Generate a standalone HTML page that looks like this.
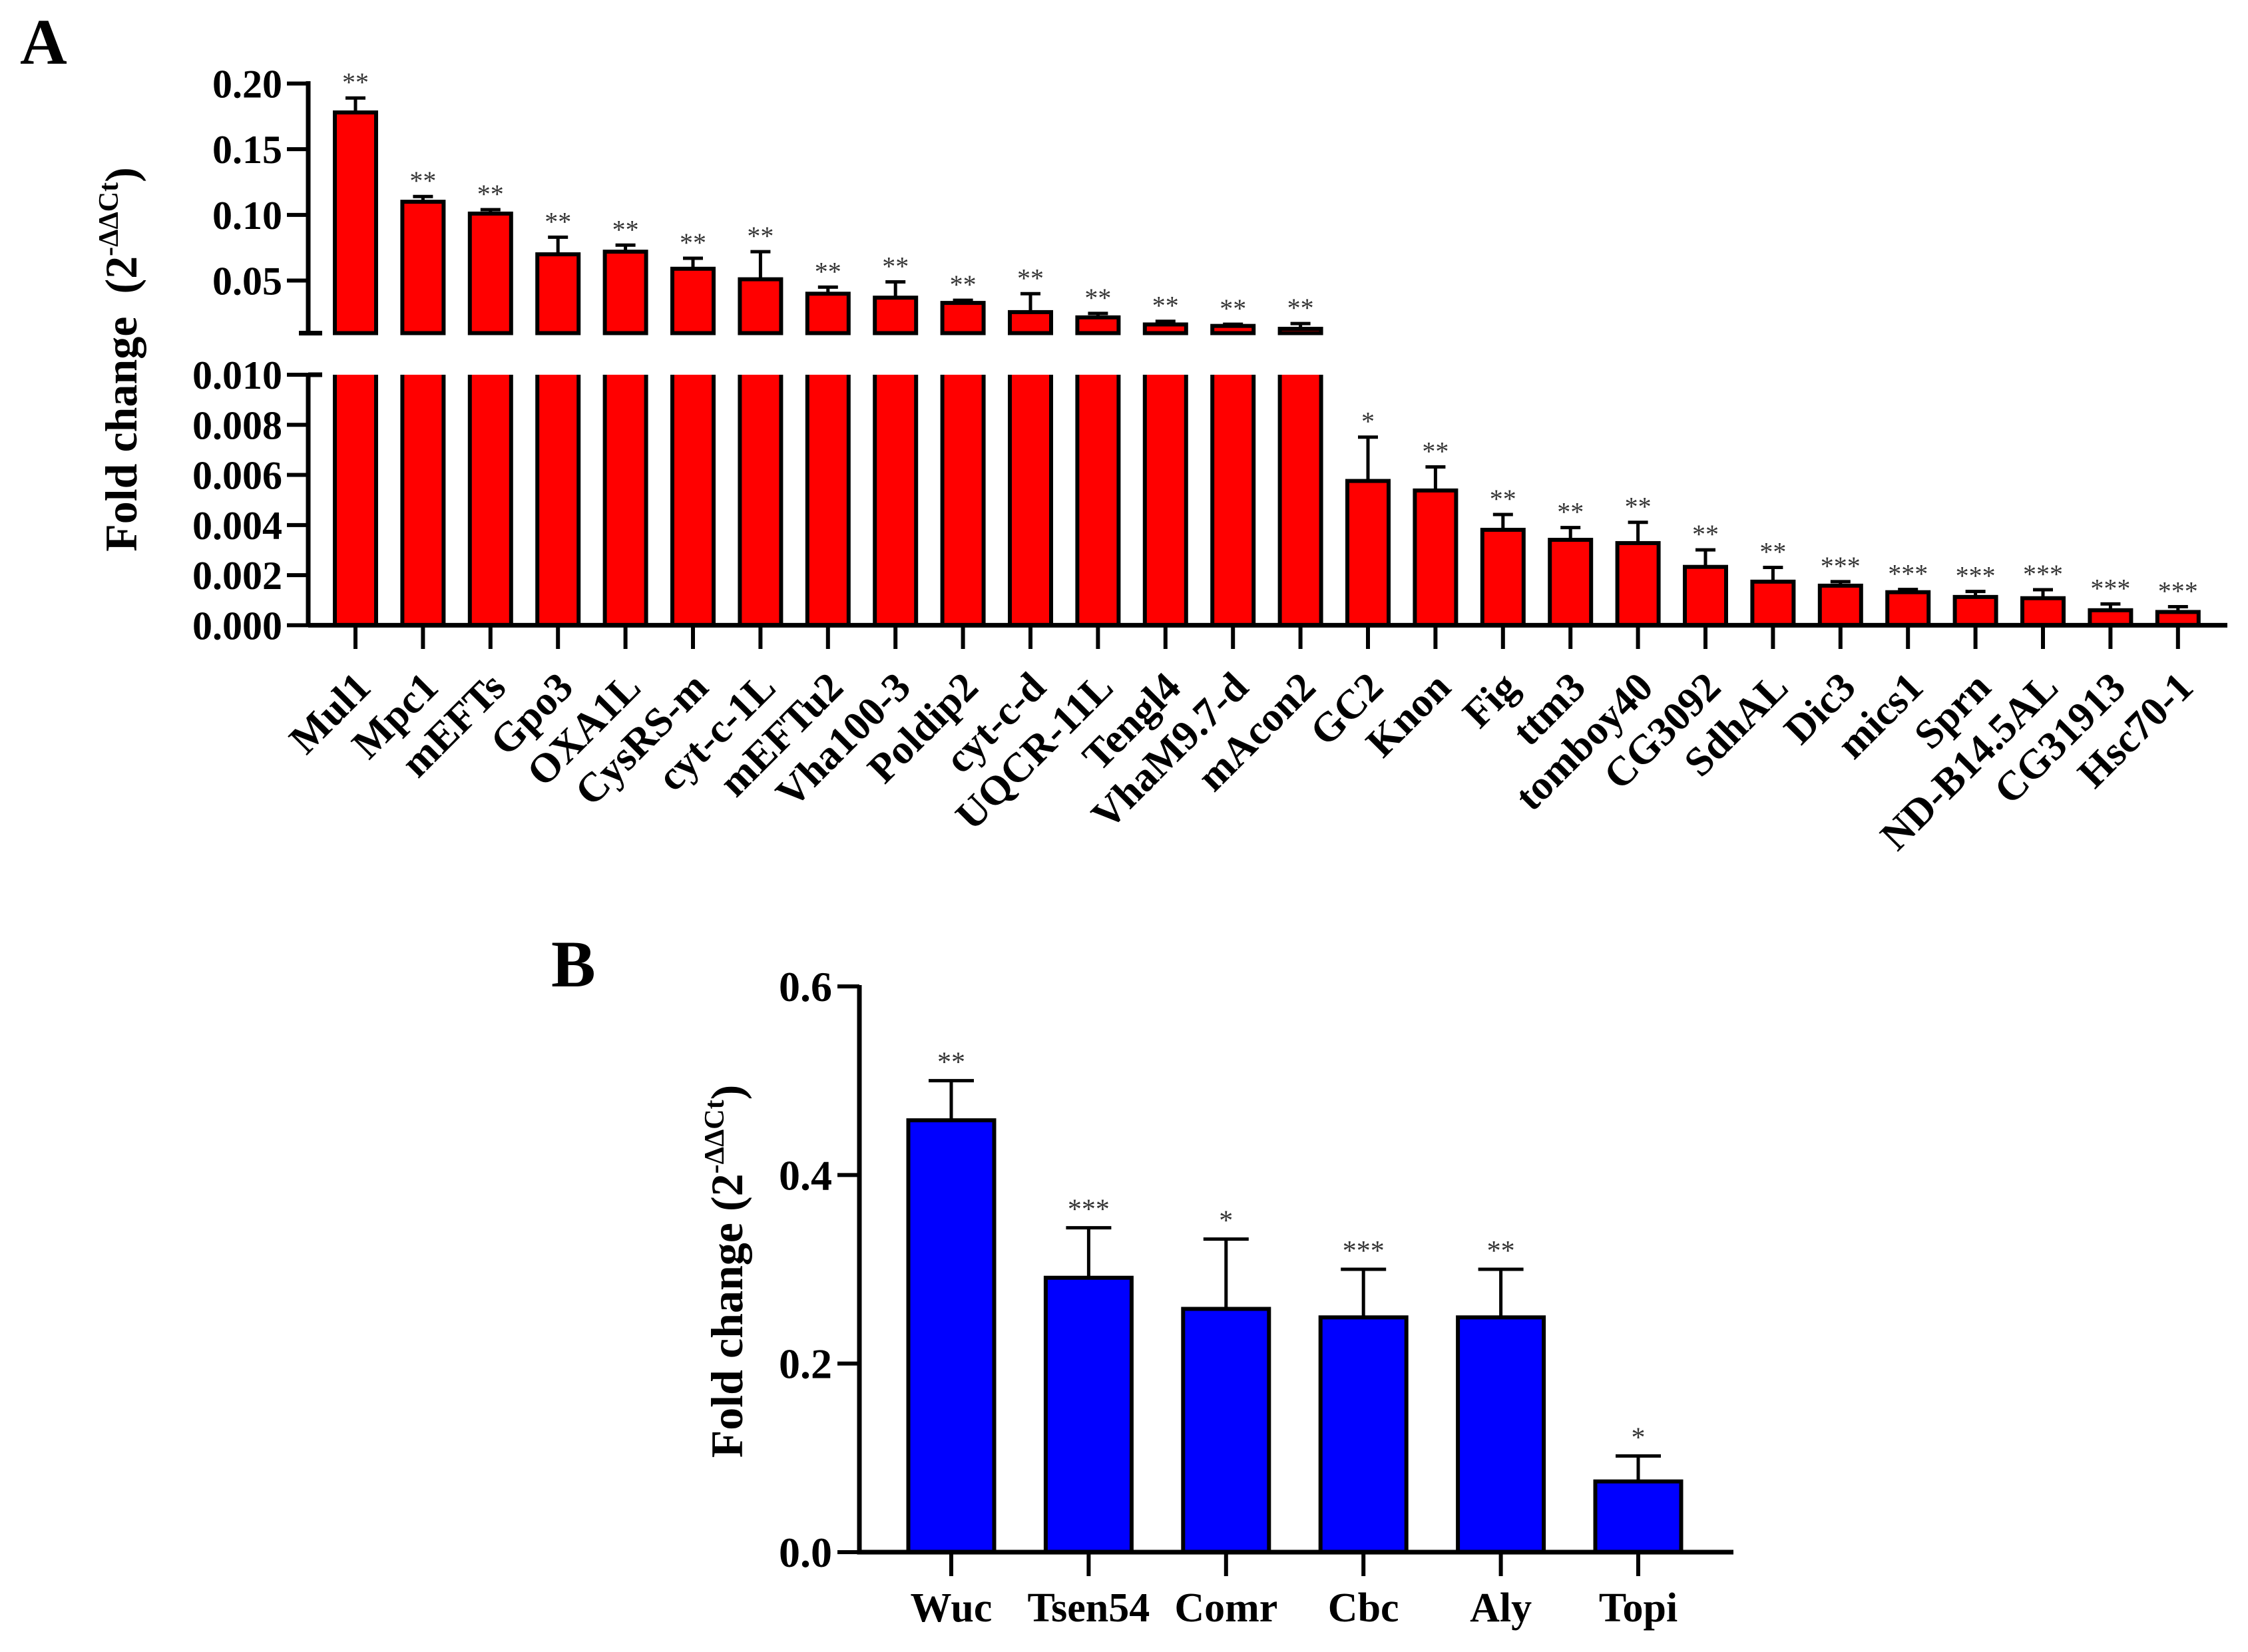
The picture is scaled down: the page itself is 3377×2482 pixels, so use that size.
<!DOCTYPE html>
<html><head><meta charset="utf-8"><style>
html,body{margin:0;padding:0;background:#fff;}
svg{display:block;font-family:"Liberation Serif",serif;font-weight:bold;}
</style></head><body>
<svg id="chart" width="3377" height="2482" viewBox="0 0 3377 2482" xmlns="http://www.w3.org/2000/svg">
<text x="30" y="96" font-size="98">A</text>
<text x="828" y="1482" font-size="100">B</text>
<text transform="translate(205,540) rotate(-90)" text-anchor="middle" font-size="68" xml:space="preserve">Fold change  (2<tspan dy="-28" font-size="42">-ΔΔCt</tspan><tspan dy="28">)</tspan></text>
<text transform="translate(1115,1910) rotate(-90)" text-anchor="middle" font-size="68">Fold change (2<tspan dy="-28" font-size="42">-ΔΔCt</tspan><tspan dy="28">)</tspan></text>
<g id="ga"></g><g id="gb"></g>
</svg>
<script>
const catsA=["Mul1","Mpc1","mEFTs","Gpo3","OXA1L","CysRS-m","cyt-c-1L","mEFTu2","Vha100-3","Poldip2","cyt-c-d","UQCR-11L","Tengl4","VhaM9.7-d","mAcon2","GC2","Knon","Fig","ttm3","tomboy40","CG3092","SdhAL","Dic3","mics1","Sprn","ND-B14.5AL","CG31913","Hsc70-1"];
const valsA=[0.178,0.110,0.101,0.070,0.072,0.059,0.051,0.040,0.037,0.033,0.026,0.022,0.0166,0.0155,0.0133,0.00576,0.00538,0.00381,0.00341,0.00328,0.00233,0.00174,0.00158,0.00132,0.00113,0.00108,0.0006,0.00053];
const errA=[0.011,0.004,0.003,0.013,0.005,0.008,0.021,0.005,0.012,0.002,0.014,0.003,0.0024,0.0013,0.004,0.00175,0.00094,0.00061,0.00049,0.00083,0.00068,0.00057,0.00016,0.00011,0.00022,0.00034,0.00025,0.00021];
const sigA=["**","**","**","**","**","**","**","**","**","**","**","**","**","**","**","*","**","**","**","**","**","**","***","***","***","***","***","***"];
const ticksUpper=[0.05,0.10,0.15,0.20];
const tickUpperLabels=["0.05","0.10","0.15","0.20"];
const ticksLower=[0,0.002,0.004,0.006,0.008,0.010];
const tickLowerLabels=["0.000","0.002","0.004","0.006","0.008","0.010"];
const catsB=["Wuc","Tsen54","Comr","Cbc","Aly","Topi"];
const valsB=[0.458,0.291,0.258,0.249,0.249,0.075];
const errB=[0.042,0.053,0.074,0.051,0.051,0.027];
const sigB=["**","***","*","***","**","*"];
const ticksB=[0,0.2,0.4,0.6];
const tickBLabels=["0.0","0.2","0.4","0.6"];

const NS="http://www.w3.org/2000/svg";
function mk(parent,tag,attrs,txt){const e=document.createElementNS(NS,tag);for(const k in attrs)e.setAttribute(k,attrs[k]);if(txt!==undefined)e.textContent=txt;parent.appendChild(e);return e;}

const upY=v=>500.5-(v-0.01)*1973.7;
const loY=v=>939.4-v*37640;
const xA=i=>534+i*101.4;
const ga=document.getElementById('ga');
const bw=62;
catsA.forEach((c,i)=>{
  const x=xA(i),v=valsA[i],e=errA[i];
  let topY, errY;
  if(v>0.01){
    let r=mk(ga,'rect',{x:x-bw/2,y:upY(v),width:bw,height:500.5-upY(v),fill:'#ff0000',stroke:'#000','stroke-width':6});
    
    
    let r2=mk(ga,'rect',{x:x-bw/2,y:563,width:bw,height:376,fill:'#ff0000'});
    
    
    mk(ga,'line',{x1:x-bw/2,y1:563,x2:x-bw/2,y2:939,stroke:'#000','stroke-width':6});
    mk(ga,'line',{x1:x+bw/2,y1:563,x2:x+bw/2,y2:939,stroke:'#000','stroke-width':6});
    topY=upY(v); errY=upY(v+e);
  } else {
    let r=mk(ga,'rect',{x:x-bw/2,y:loY(v),width:bw,height:939.4-loY(v),fill:'#ff0000',stroke:'#000','stroke-width':6});
    
    
    topY=loY(v); errY=loY(v+e);
  }
  let eb=mk(ga,'path',{d:`M${x},${topY} V${errY} M${x-15},${errY} H${x+15}`,stroke:'#000','stroke-width':5,fill:'none'});
  
  
  let s=mk(ga,'text',{x:x,y:errY-10,'text-anchor':'middle','font-size':40,fill:'#333','font-weight':'normal'},sigA[i]);
  
  
  mk(ga,'line',{x1:x,y1:939,x2:x,y2:975,stroke:'#000','stroke-width':6});
  let t=mk(ga,'text',{transform:`translate(${x+26},${1036}) rotate(-45)`,'text-anchor':'end','font-size':62},c);
  
  
});
let au=mk(ga,'path',{d:`M463,122 V500.5 M449,500.5 H484`,stroke:'#000','stroke-width':7,fill:'none'});


let al=mk(ga,'path',{d:`M463,563 V939 M463,563 H484 M463,939.4 H3346`,stroke:'#000','stroke-width':7,fill:'none'});


ticksUpper.forEach((v,i)=>{
  mk(ga,'line',{x1:431,y1:upY(v),x2:463,y2:upY(v),stroke:'#000','stroke-width':6});
  let t=mk(ga,'text',{x:424,y:upY(v)+21,'text-anchor':'end','font-size':60},tickUpperLabels[i]);
  
  
});
ticksLower.forEach((v,i)=>{
  mk(ga,'line',{x1:431,y1:loY(v),x2:463,y2:loY(v),stroke:'#000','stroke-width':6});
  let t=mk(ga,'text',{x:424,y:loY(v)+21,'text-anchor':'end','font-size':60},tickLowerLabels[i]);
  
  
});

const yB=v=>2332-v*1416.7;
const xB=i=>1429+i*206.4;
const gb=document.getElementById('gb');
const bwB=129;
catsB.forEach((c,i)=>{
  const x=xB(i),v=valsB[i],e=errB[i];
  let r=mk(gb,'rect',{x:x-bwB/2,y:yB(v),width:bwB,height:2332-yB(v),fill:'#0000ff',stroke:'#000','stroke-width':6});
  
  
  const ey=yB(v+e);
  let eb=mk(gb,'path',{d:`M${x},${yB(v)} V${ey} M${x-34},${ey} H${x+34}`,stroke:'#000','stroke-width':5,fill:'none'});
  
  
  let s=mk(gb,'text',{x:x,y:ey-14,'text-anchor':'middle','font-size':42,fill:'#333','font-weight':'normal'},sigB[i]);
  
  
  mk(gb,'line',{x1:x,y1:2332,x2:x,y2:2368,stroke:'#000','stroke-width':6});
  let t=mk(gb,'text',{x:x,y:2436,'text-anchor':'middle','font-size':62},c);
  
  
});
let axb=mk(gb,'path',{d:`M1291,1480 V2332 H2604`,stroke:'#000','stroke-width':7,fill:'none'});


ticksB.forEach((v,i)=>{
  mk(gb,'line',{x1:1258,y1:yB(v),x2:1291,y2:yB(v),stroke:'#000','stroke-width':6});
  let t=mk(gb,'text',{x:1250,y:yB(v)+22,'text-anchor':'end','font-size':64},tickBLabels[i]);
  
  
});
</script>
</body></html>
